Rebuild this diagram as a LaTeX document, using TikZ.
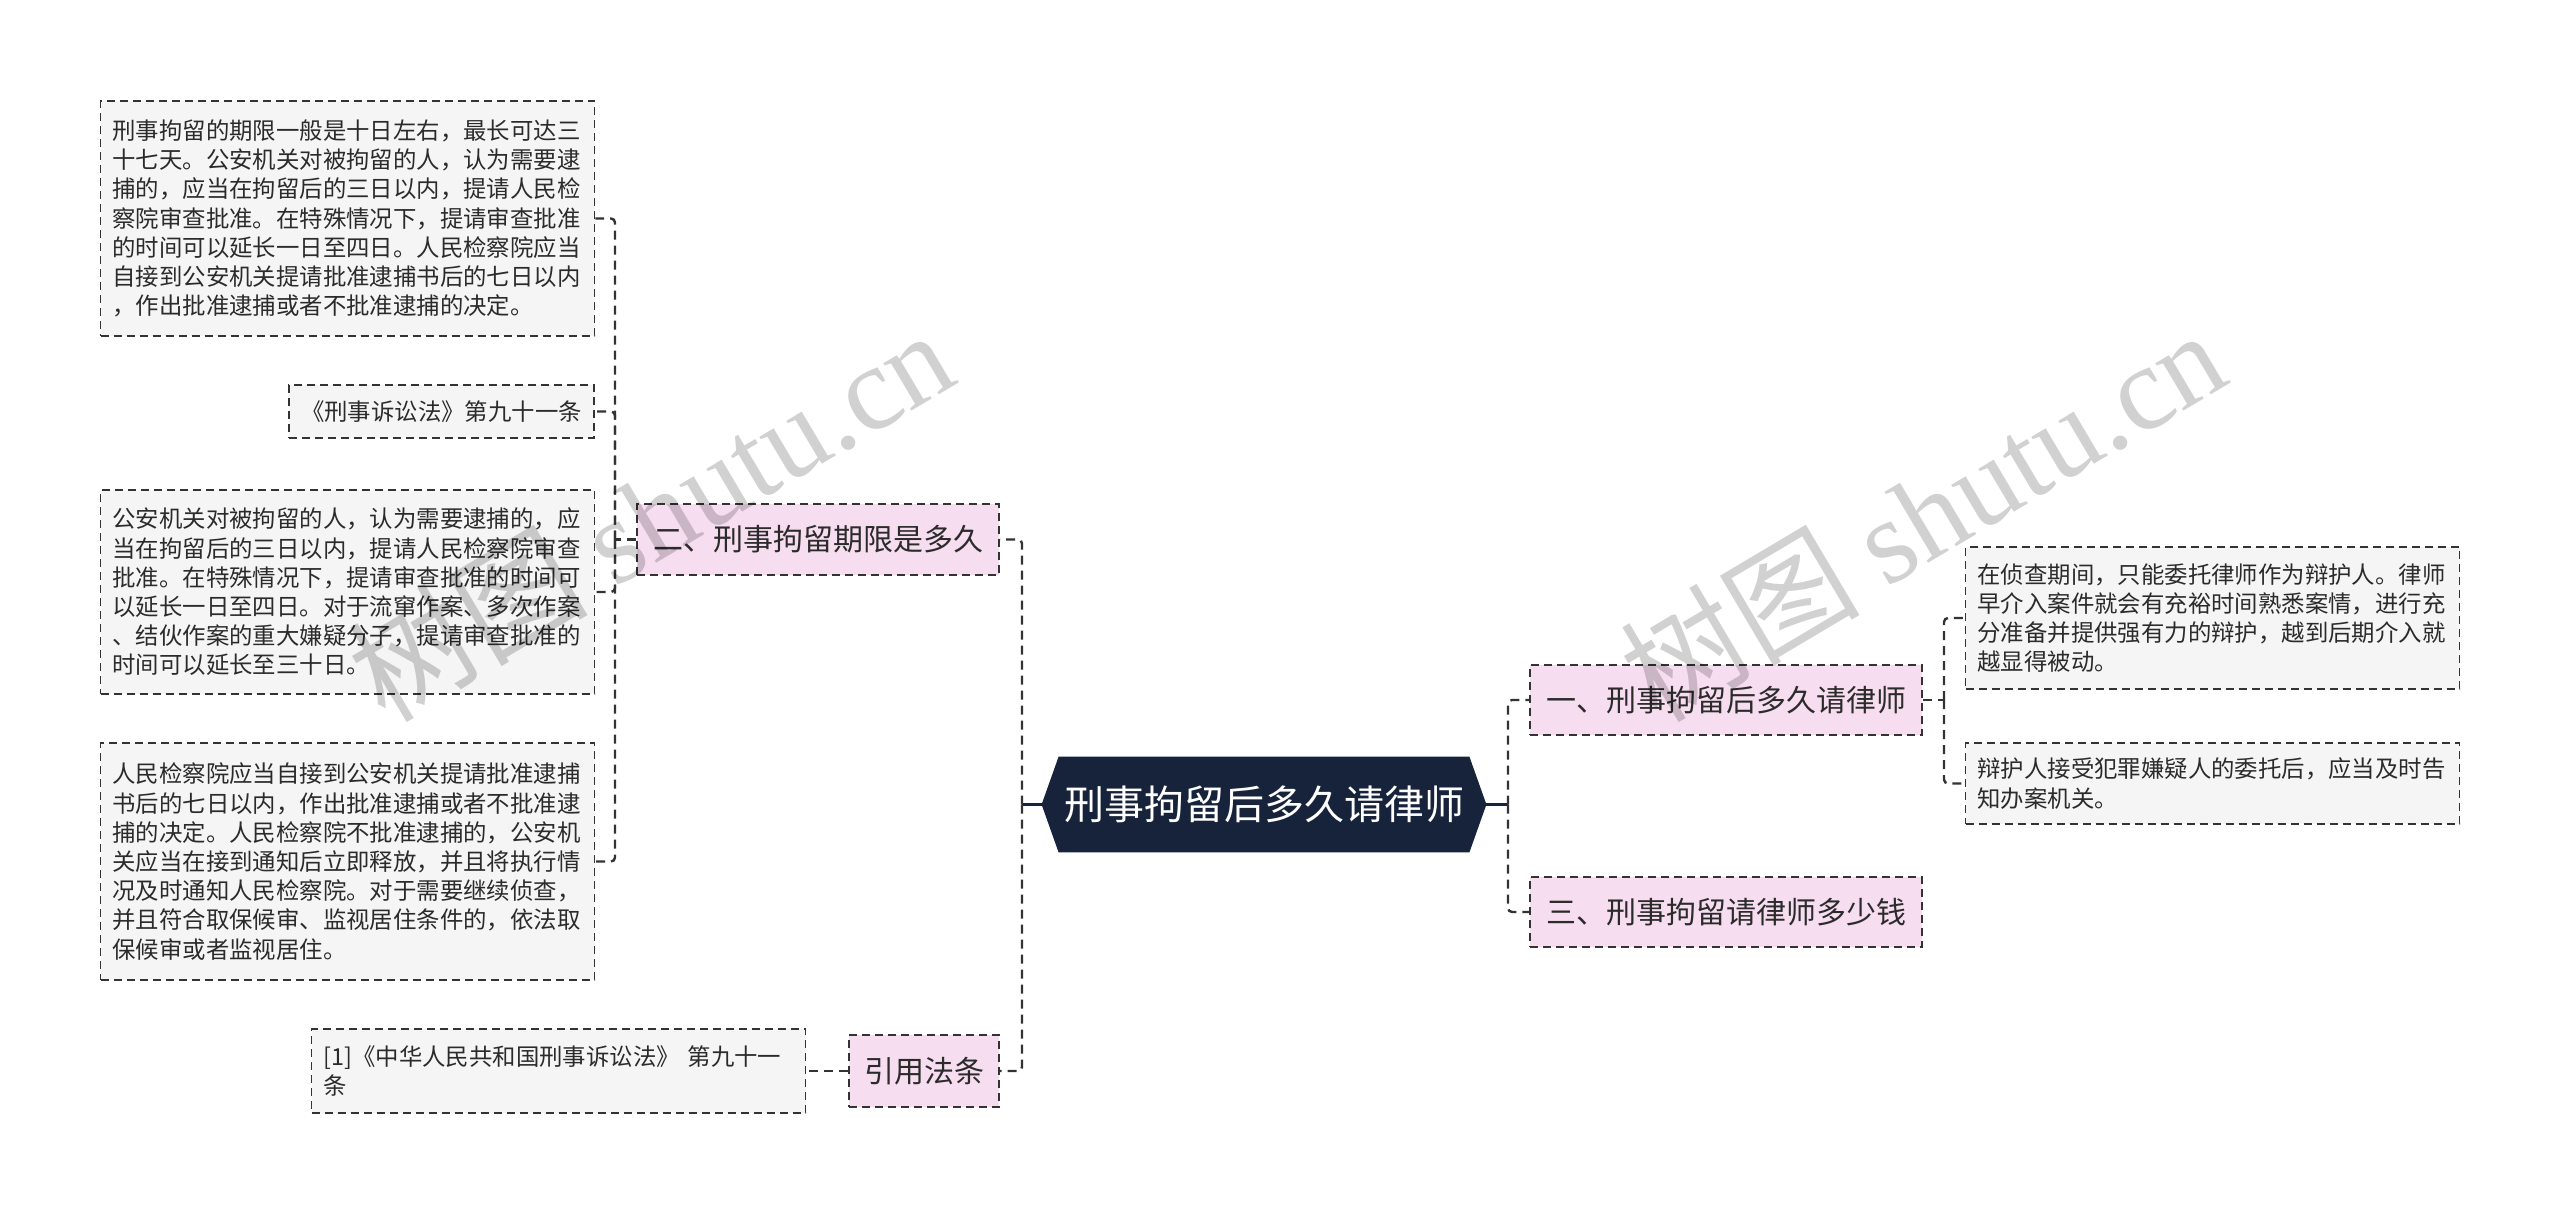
\documentclass[tikz,border=0pt]{standalone}
\usepackage{fontspec}
\setmainfont{Noto Sans CJK SC}
\newfontfamily\wmserif{Liberation Serif}
\usetikzlibrary{calc,backgrounds}
\definecolor{navy}{HTML}{17233A}
\definecolor{pinkfill}{HTML}{F6DDF0}
\definecolor{grayfill}{HTML}{F5F5F5}
\definecolor{bordercol}{HTML}{333333}
\definecolor{txt}{HTML}{2B2B2B}
\tikzset{
 graybox/.style={draw=bordercol, line width=0.9pt, dash pattern=on 4pt off 2.5pt, fill=grayfill, text=txt,
   font=\fontsize{11.7}{14.6}\selectfont, align=left, text width=235pt, inner xsep=6pt, inner ysep=0pt},
 grayone/.style={draw=bordercol, line width=0.9pt, dash pattern=on 4pt off 2.5pt, fill=grayfill, text=txt,
   font=\fontsize{11.7}{14.6}\selectfont, inner sep=0pt},
 pinkbox/.style={draw=bordercol, line width=0.9pt, dash pattern=on 4pt off 2.5pt, fill=pinkfill, text=txt,
   font=\fontsize{15}{18}\selectfont, inner sep=0pt},
 conn/.style={draw=bordercol, line width=1.2pt, dash pattern=on 4.5pt off 3pt, rounded corners=2pt},
 rootline/.style={draw=navy, line width=1.4pt},
 watermark/.style={rotate=30.7, text=black, text opacity=0.18, font=\fontsize{60}{60}\selectfont, inner sep=0pt},
}
\begin{document}
\begin{tikzpicture}[x=0.5pt, y=-0.5pt]
\useasboundingbox (0,0) rectangle (2560,1215);

% root
\node[font=\fontsize{20}{24}\selectfont, text=white, minimum width=222pt, minimum height=47.5pt, inner sep=0pt] (root) at (1264,804.5) {刑事拘留后多久请律师};
\begin{scope}[on background layer]
\fill[navy] (root.west) -- ($(root.north west)+(17,0)$) -- ($(root.north east)+(-17,0)$) -- (root.east)
  -- ($(root.south east)+(-17,0)$) -- ($(root.south west)+(17,0)$) -- cycle;
\end{scope}

% left branch
\node[pinkbox, minimum width=181pt, minimum height=35.5pt] (er) at (818,539.5) {二、刑事拘留期限是多久};
\node[pinkbox, minimum width=75pt, minimum height=36pt] (yy) at (924,1071) {引用法条};

\node[graybox, minimum height=117.5pt] (b1) at (347.5,218.5) {刑事拘留的期限一般是十日左右，最长可达三\\十七天。公安机关对被拘留的人，认为需要逮\\捕的，应当在拘留后的三日以内，提请人民检\\察院审查批准。在特殊情况下，提请审查批准\\的时间可以延长一日至四日。人民检察院应当\\自接到公安机关提请批准逮捕书后的七日以内\\，作出批准逮捕或者不批准逮捕的决定。};
\node[grayone, minimum width=152.5pt, minimum height=26.5pt] (b2) at (441.5,411.5) {《刑事诉讼法》第九十一条};
\node[graybox, minimum height=102pt] (b3) at (347.5,592) {公安机关对被拘留的人，认为需要逮捕的，应\\当在拘留后的三日以内，提请人民检察院审查\\批准。在特殊情况下，提请审查批准的时间可\\以延长一日至四日。对于流窜作案、多次作案\\、结伙作案的重大嫌疑分子，提请审查批准的\\时间可以延长至三十日。};
\node[graybox, minimum height=118.5pt] (b4) at (347.5,861.5) {人民检察院应当自接到公安机关提请批准逮捕\\书后的七日以内，作出批准逮捕或者不批准逮\\捕的决定。人民检察院不批准逮捕的，公安机\\关应当在接到通知后立即释放，并且将执行情\\况及时通知人民检察院。对于需要继续侦查，\\并且符合取保候审、监视居住条件的，依法取\\保候审或者监视居住。};
\node[graybox, minimum height=42pt] (cite) at (558.5,1071) {[1]《中华人民共和国刑事诉讼法》 第九十一\\条};

% right branch
\node[pinkbox, minimum width=196pt, minimum height=35pt] (yi) at (1726,700) {一、刑事拘留后多久请律师};
\node[pinkbox, minimum width=196pt, minimum height=35pt] (san) at (1726,912) {三、刑事拘留请律师多少钱};
\node[graybox, minimum height=71pt] (r1) at (2212.5,618) {在侦查期间，只能委托律师作为辩护人。律师\\早介入案件就会有充裕时间熟悉案情，进行充\\分准备并提供强有力的辩护，越到后期介入就\\越显得被动。};
\node[graybox, minimum height=40.5pt] (r2) at (2212.5,783.5) {辩护人接受犯罪嫌疑人的委托后，应当及时告\\知办案机关。};

% connectors
\coordinate (lsp) at (1022,804.5);
\coordinate (rsp) at (1508,804.5);
\coordinate (esp) at (615,539.5);
\coordinate (ysp) at (1944,700);

\draw[rootline] (root.west) -- (lsp);
\draw[rootline] (root.east) -- (rsp);
\draw[conn] (lsp) |- (er.east);
\draw[conn] (lsp) |- (yy.east);
\draw[conn] (rsp) |- (yi.west);
\draw[conn] (rsp) |- (san.west);

\draw[conn] (er.west) -- (esp);
\draw[conn] (esp) |- (b1.east);
\draw[conn] (esp) |- (b2.east);
\draw[conn] (esp) |- (b3.east);
\draw[conn] (esp) |- (b4.east);

\draw[conn] (yy.west) -- (cite.east);

\draw[conn] (yi.east) -- (ysp);
\draw[conn] (ysp) |- (r1.west);
\draw[conn] (ysp) |- (r2.west);

% watermarks
\node[watermark] (wm1) at (650,514) {树图 {\wmserif shutu.cn}};
\node[watermark] (wm2) at (1922,514) {树图 {\wmserif shutu.cn}};
\end{tikzpicture}
\end{document}
